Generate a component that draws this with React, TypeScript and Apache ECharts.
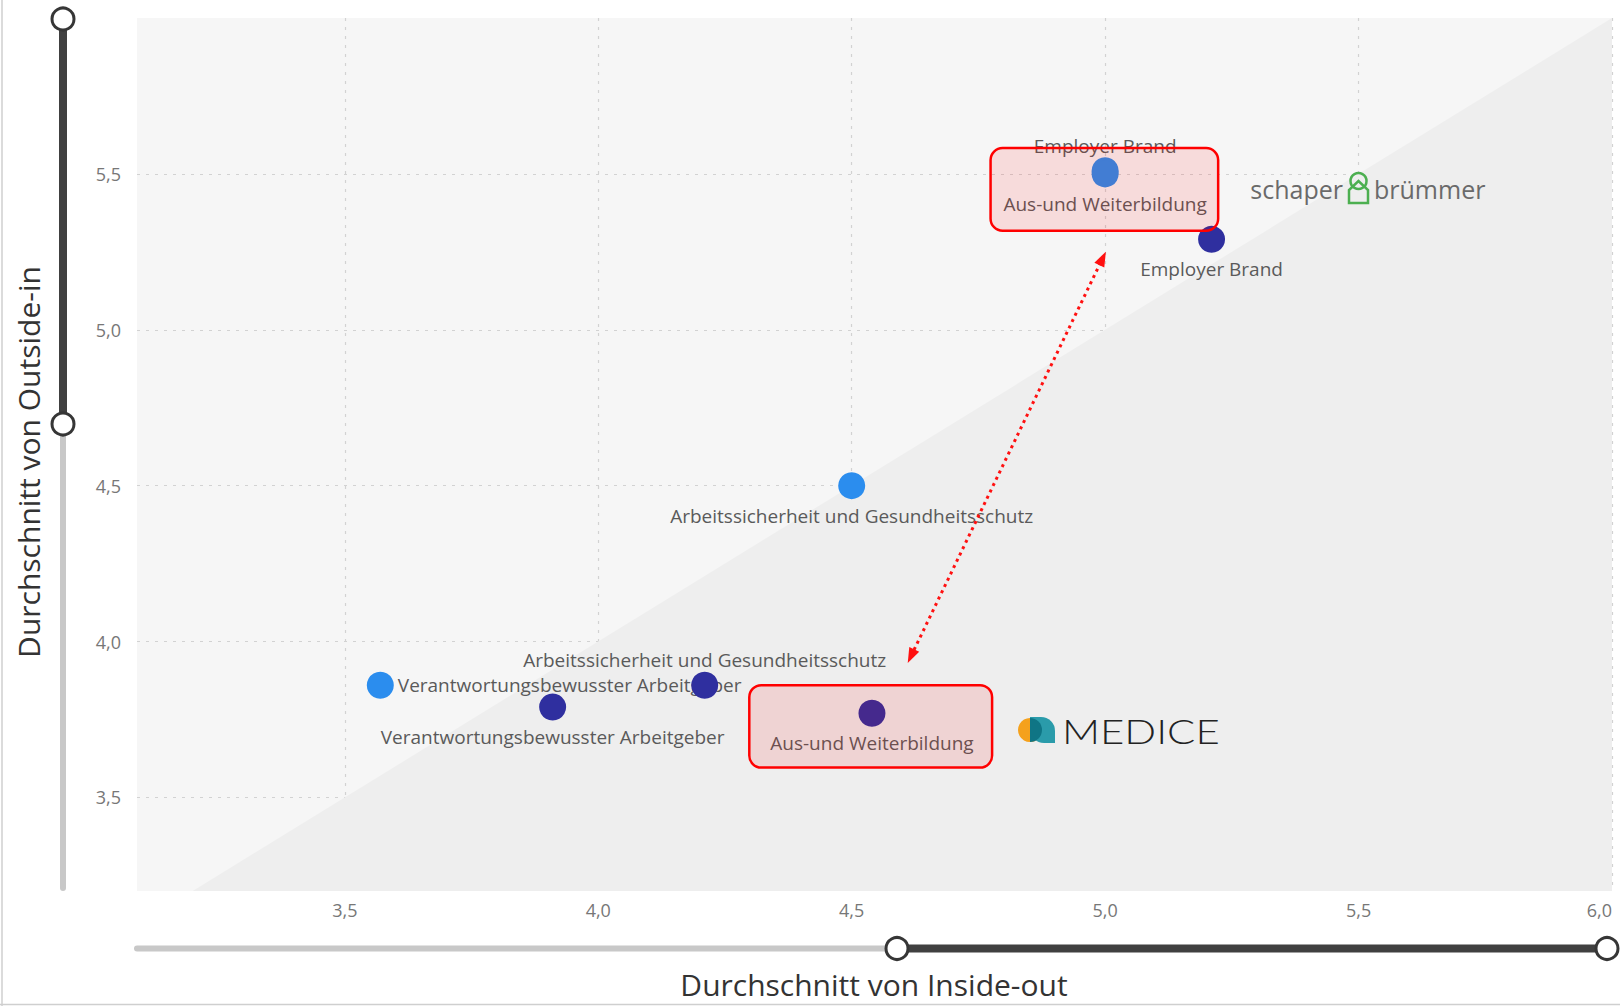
import React, { useEffect, useRef } from "react";
import * as echarts from "echarts";

// ---------- data ----------
const categories = [
  "Employer Brand",
  "Aus-und Weiterbildung",
  "Arbeitssicherheit und Gesundheitsschutz",
  "Verantwortungsbewusster Arbeitgeber",
];
// schaper brümmer (light blue)
const schaperInsideOut = [5.0, 5.0, 4.5, 3.57];
const schaperOutsideIn = [5.51, 5.5, 4.5, 3.86];
// MEDICE (dark blue)
const mediceInsideOut = [5.21, 4.54, 4.21, 3.91];
const mediceOutsideIn = [5.29, 3.77, 3.86, 3.79];

// axis extents
const xMin = 3.09;
const xMax = 6.0;
const yMin = 3.2;
const yMax = 6.0;

// y = x reference diagonal
const diagonal = [
  [yMin, yMin],
  [xMax, xMax],
];

// annotations in data coordinates
const highlightBoxes = [
  { x1: 4.774, x2: 5.223, y1: 5.583, y2: 5.318 },
  { x1: 4.298, x2: 4.777, y1: 3.86, y2: 3.596 },
];
const arrowFrom = [4.617, 3.953];
const arrowTo = [4.995, 5.229];

// label placement (layout, not data)
const schaperLabelPos = ["top", "bottom", "bottom", "right"];
const mediceLabelPos = ["bottom", "bottom", "top", "bottom"];
const labelDistance: Record<string, number> = { top: 2, bottom: 7, right: 4 };

const FONT = "'Open Sans', 'Noto Sans', sans-serif";
const fmt = (v: number) => v.toFixed(1).replace(".", ",");

function buildPoints(xs: number[], ys: number[], pos: string[]) {
  return categories.map((c, i) => ({
    name: c,
    value: [xs[i], ys[i]],
    label: { position: pos[i], distance: labelDistance[pos[i]] },
  }));
}

export default function App() {
  const ref = useRef<HTMLDivElement>(null);

  useEffect(() => {
    document.body.style.margin = "0";
    const chart = echarts.init(ref.current!, undefined, { renderer: "svg" });

    const pointLabel = {
      show: true,
      formatter: "{b}",
      fontSize: 19,
      fontFamily: FONT,
      color: "#5a5a5a",
    };
    const gridLine = { color: "#d2d2d2", width: 1.2, type: [3, 6] };

    chart.setOption({
      animation: false,
      backgroundColor: "#ffffff",
      grid: {
        left: 137,
        top: 18,
        right: 8,
        bottom: 115,
        show: true,
        backgroundColor: "#f6f6f6",
        borderWidth: 0,
        outerBoundsMode: "none",
        containLabel: false,
      },
      xAxis: {
        type: "value",
        min: xMin,
        max: xMax,
        splitNumber: 5,
        axisLine: { show: false },
        axisTick: { show: false },
        axisLabel: {
          showMinLabel: false,
          alignMaxLabel: "right",
          formatter: (v: number) => fmt(v),
          fontSize: 18,
          fontFamily: FONT,
          color: "#777777",
          margin: 10,
        },
        splitLine: { show: true, showMinLine: false, lineStyle: gridLine },
      },
      yAxis: {
        type: "value",
        min: yMin,
        max: yMax,
        splitNumber: 5,
        axisLine: { show: false },
        axisTick: { show: false },
        axisLabel: {
          showMinLabel: false,
          showMaxLabel: false,
          formatter: (v: number) => fmt(v),
          fontSize: 18,
          fontFamily: FONT,
          color: "#777777",
          margin: 16,
        },
        splitLine: { show: true, showMinLine: false, showMaxLine: false, lineStyle: gridLine },
      },
      series: [
        {
          name: "Diagonale",
          type: "line",
          data: diagonal,
          symbol: "none",
          silent: true,
          z: 1,
          lineStyle: { width: 0 },
          areaStyle: { color: "#eeeeee", opacity: 1 },
          markLine: {
            silent: true,
            symbol: ["triangle", "triangle"],
            symbolSize: [11, 15],
            label: { show: false },
            lineStyle: { color: "#ff1010", width: 3, type: [3, 4] },
            data: [[{ coord: arrowFrom }, { coord: arrowTo }]],
          },
        },
        {
          name: "schaper brümmer",
          type: "scatter",
          z: 2,
          symbolSize: 27,
          itemStyle: { color: "#2B8DEE", opacity: 1 },
          label: pointLabel,
          data: buildPoints(schaperInsideOut, schaperOutsideIn, schaperLabelPos),
        },
        {
          name: "MEDICE",
          type: "scatter",
          z: 3,
          symbolSize: 27,
          itemStyle: { color: "#2F2F9F", opacity: 1 },
          label: pointLabel,
          data: buildPoints(mediceInsideOut, mediceOutsideIn, mediceLabelPos),
        },
      ],
    });

    // annotation boxes computed from data coordinates
    const boxes = highlightBoxes.map((b) => {
      const a = chart.convertToPixel({ gridIndex: 0 }, [b.x1, b.y1]) as number[];
      const c = chart.convertToPixel({ gridIndex: 0 }, [b.x2, b.y2]) as number[];
      return {
        type: "rect",
        z: 100,
        shape: {
          x: Math.min(a[0], c[0]),
          y: Math.min(a[1], c[1]),
          width: Math.abs(c[0] - a[0]),
          height: Math.abs(c[1] - a[1]),
          r: 12,
        },
        style: { fill: "rgba(255,0,0,0.11)", stroke: "#ff0000", lineWidth: 2.5 },
      };
    });

    const green = "#4CAF50";
    const graphic: any[] = [
      // frame
      { type: "line", z: 1, shape: { x1: 2, y1: 0, x2: 2, y2: 1006 }, style: { stroke: "#cfcfcf", lineWidth: 1.5 } },
      { type: "line", z: 1, shape: { x1: 0, y1: 1004.5, x2: 1620, y2: 1004.5 }, style: { stroke: "#cfcfcf", lineWidth: 1.5 } },
      // vertical slider
      { type: "line", z: 5, shape: { x1: 63, y1: 19, x2: 63, y2: 888 }, style: { stroke: "#c8c8c8", lineWidth: 6, lineCap: "round" } },
      { type: "line", z: 6, shape: { x1: 63, y1: 19, x2: 63, y2: 424 }, style: { stroke: "#404040", lineWidth: 8 } },
      { type: "circle", z: 7, shape: { cx: 63, cy: 19, r: 11 }, style: { fill: "#ffffff", stroke: "#363636", lineWidth: 3 } },
      { type: "circle", z: 7, shape: { cx: 63, cy: 424, r: 11 }, style: { fill: "#ffffff", stroke: "#363636", lineWidth: 3 } },
      // horizontal slider
      { type: "line", z: 5, shape: { x1: 137, y1: 948.5, x2: 897, y2: 948.5 }, style: { stroke: "#c8c8c8", lineWidth: 6, lineCap: "round" } },
      { type: "line", z: 6, shape: { x1: 897, y1: 948.5, x2: 1609, y2: 948.5 }, style: { stroke: "#404040", lineWidth: 8 } },
      { type: "circle", z: 7, shape: { cx: 897, cy: 948.5, r: 11 }, style: { fill: "#ffffff", stroke: "#363636", lineWidth: 3 } },
      { type: "circle", z: 7, shape: { cx: 1607, cy: 948.5, r: 11 }, style: { fill: "#ffffff", stroke: "#363636", lineWidth: 3 } },
      // axis titles
      {
        type: "text", z: 8, x: 28, y: 462, rotation: Math.PI / 2,
        style: { text: "Durchschnitt von Outside-in", fontSize: 30, fontFamily: FONT, fill: "#333333", align: "center", verticalAlign: "middle" },
      },
      {
        type: "text", z: 8, x: 874, y: 984,
        style: { text: "Durchschnitt von Inside-out", fontSize: 30, fontFamily: FONT, fill: "#333333", align: "center", verticalAlign: "middle" },
      },
      // schaper brümmer logo
      {
        type: "text", z: 8, x: 1343, y: 189,
        style: { text: "schaper", fontSize: 25, fontFamily: FONT, fill: "#6a6a6a", align: "right", verticalAlign: "middle" },
      },
      { type: "circle", z: 8, shape: { cx: 1358.5, cy: 181, r: 8 }, style: { fill: "none", stroke: green, lineWidth: 2.5 } },
      {
        type: "polygon", z: 8,
        shape: { points: [[1349, 203], [1349, 190], [1358.5, 181], [1368, 190], [1368, 203]] },
        style: { fill: "none", stroke: green, lineWidth: 2.5 },
      },
      {
        type: "text", z: 8, x: 1374, y: 189,
        style: { text: "brümmer", fontSize: 25, fontFamily: FONT, fill: "#6a6a6a", align: "left", verticalAlign: "middle" },
      },
      // MEDICE logo
      { type: "circle", z: 8, shape: { cx: 1030, cy: 730, r: 12 }, style: { fill: "#F5A11C" } },
      { type: "rect", z: 9, shape: { x: 1030, y: 717, width: 25, height: 26, r: [0, 14, 0, 14] }, style: { fill: "#2A9BAA" } },
      { type: "sector", z: 10, shape: { cx: 1030, cy: 730, r: 12, r0: 0, startAngle: -Math.PI / 2, endAngle: Math.PI / 2 }, style: { fill: "#0F7585" } },
      {
        type: "text", z: 8, x: 1062, y: 731, scaleX: 1.27,
        style: { text: "MEDICE", fontSize: 33, fontFamily: "Lato, 'Open Sans', sans-serif", fontWeight: 300, fill: "#222222", align: "left", verticalAlign: "middle" },
      },
      ...boxes,
    ];

    chart.setOption({ graphic });

    return () => chart.dispose();
  }, []);

  return (
    <div
      ref={ref}
      style={{ position: "fixed", left: 0, top: 0, width: 1620, height: 1006, overflow: "hidden" }}
    />
  );
}
